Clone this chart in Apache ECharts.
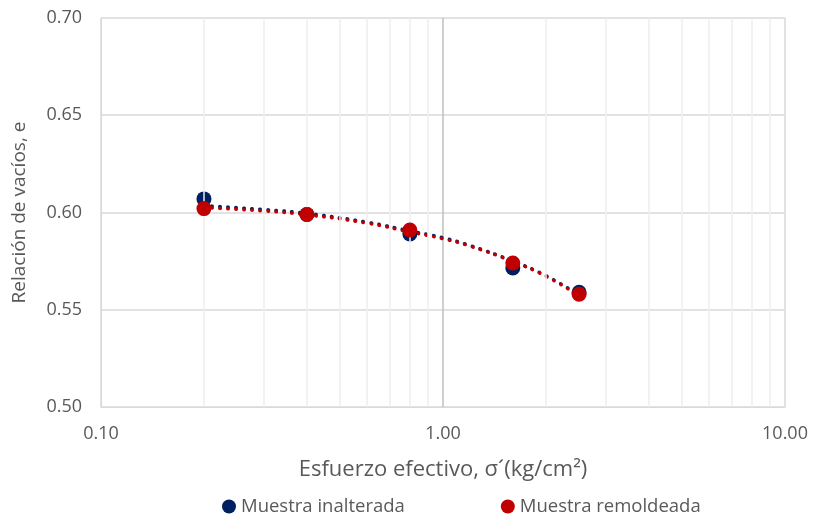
<!DOCTYPE html>
<html>
<head>
<meta charset="utf-8">
<script src="https://cdn.jsdelivr.net/npm/echarts@6/dist/echarts.min.js"></script>
<style>
  html, body { margin: 0; padding: 0; background: #fff; }
  #chart { width: 814px; height: 524px; }
</style>
</head>
<body>
<div id="chart"></div>
<script>
// datos
const esfuerzo = [0.2, 0.4, 0.8, 1.6, 2.5]
const inalterada = [0.607, 0.599, 0.589, 0.5715, 0.559]
const remoldeada = [0.602, 0.599, 0.591, 0.574, 0.558]

// lineas de tendencia
const tendX = [0.2, 0.3, 0.4, 0.6, 0.8, 1.0, 1.2, 1.6, 2.0, 2.5]
const tendInalterada = [0.6035, 0.6015, 0.5995, 0.5950, 0.5905, 0.5870, 0.5830, 0.5750, 0.5675, 0.5575]
const tendRemoldeada = [0.6025, 0.6008, 0.5988, 0.5945, 0.5900, 0.5865, 0.5827, 0.5748, 0.5672, 0.5572]

const minorX = [0.2, 0.3, 0.4, 0.5, 0.6, 0.7, 0.8, 0.9, 2, 3, 4, 5, 6, 7, 8, 9]

const font = 'Open Sans, sans-serif'
const txt = '#595959'

const pairs = (xs, ys) => xs.map((x, i) => [x, ys[i]])

const chart = echarts.init(document.getElementById('chart'))

const option = {
  animation: false,
  textStyle: { fontFamily: font },
  grid: { left: 101, right: 29, top: 18, bottom: 117, containLabel: false, outerBoundsMode: 'none' },
  legend: {
    bottom: 3,
    left: 217,
    itemGap: 96,
    itemWidth: 14,
    itemHeight: 14,
    textStyle: { fontSize: 18.5, color: txt, fontFamily: font },
    data: [
      { name: 'Muestra inalterada', icon: 'circle' },
      { name: 'Muestra remoldeada', icon: 'circle' }
    ]
  },
  xAxis: {
    type: 'log',
    logBase: 10,
    min: 0.1,
    max: 10,
    name: 'Esfuerzo efectivo, σ´(kg/cm²)',
    nameLocation: 'middle',
    nameGap: 52,
    nameTextStyle: { fontSize: 22, color: txt, fontFamily: font },
    axisLine: { lineStyle: { color: '#d9d9d9' } },
    axisTick: { show: false },
    axisLabel: {
      fontSize: 18, color: txt, margin: 18,
      formatter: v => v.toFixed(2)
    },
    splitLine: { show: true, lineStyle: { color: ['#d9d9d9', '#bfbfbf', '#d9d9d9'], width: 1.5 } }
  },
  yAxis: {
    type: 'value',
    min: 0.5,
    max: 0.7,
    interval: 0.05,
    name: 'Relación de vacíos, e',
    nameLocation: 'middle',
    nameGap: 72,
    nameTextStyle: { fontSize: 19, color: txt, fontFamily: font },
    axisLine: { show: true, lineStyle: { color: '#d9d9d9' } },
    axisTick: { show: false },
    axisLabel: {
      fontSize: 18, color: txt, margin: 19,
      formatter: v => v.toFixed(2)
    },
    splitLine: { show: true, lineStyle: { color: '#d9d9d9', width: 1.5 } }
  },
  series: [
    {
      name: 'grid-minor',
      type: 'line',
      data: [],
      silent: true,
      markLine: {
        silent: true,
        symbol: 'none',
        label: { show: false },
        lineStyle: { color: '#eeeeee', type: 'solid', width: 1.5 },
        data: minorX.map(x => ({ xAxis: x }))
      }
    },
    {
      name: 'tend-inalterada',
      type: 'line',
      data: pairs(tendX, tendInalterada),
      smooth: true,
      showSymbol: false,
      silent: true,
      z: 3,
      lineStyle: { color: '#002060', width: 3.5, type: [0.5, 7.5], cap: 'round' }
    },
    {
      name: 'tend-remoldeada',
      type: 'line',
      data: pairs(tendX, tendRemoldeada),
      smooth: true,
      showSymbol: false,
      silent: true,
      z: 3,
      lineStyle: { color: '#c00000', width: 3.5, type: [0.5, 7.5], cap: 'round' }
    },
    {
      name: 'Muestra inalterada',
      type: 'scatter',
      data: pairs(esfuerzo, inalterada),
      symbolSize: 15,
      z: 4,
      itemStyle: { color: '#002060', opacity: 1 }
    },
    {
      name: 'Muestra remoldeada',
      type: 'scatter',
      data: pairs(esfuerzo, remoldeada),
      symbolSize: 15,
      z: 5,
      itemStyle: { color: '#c00000', opacity: 1 }
    }
  ]
}

chart.setOption(option)
</script>
</body>
</html>
